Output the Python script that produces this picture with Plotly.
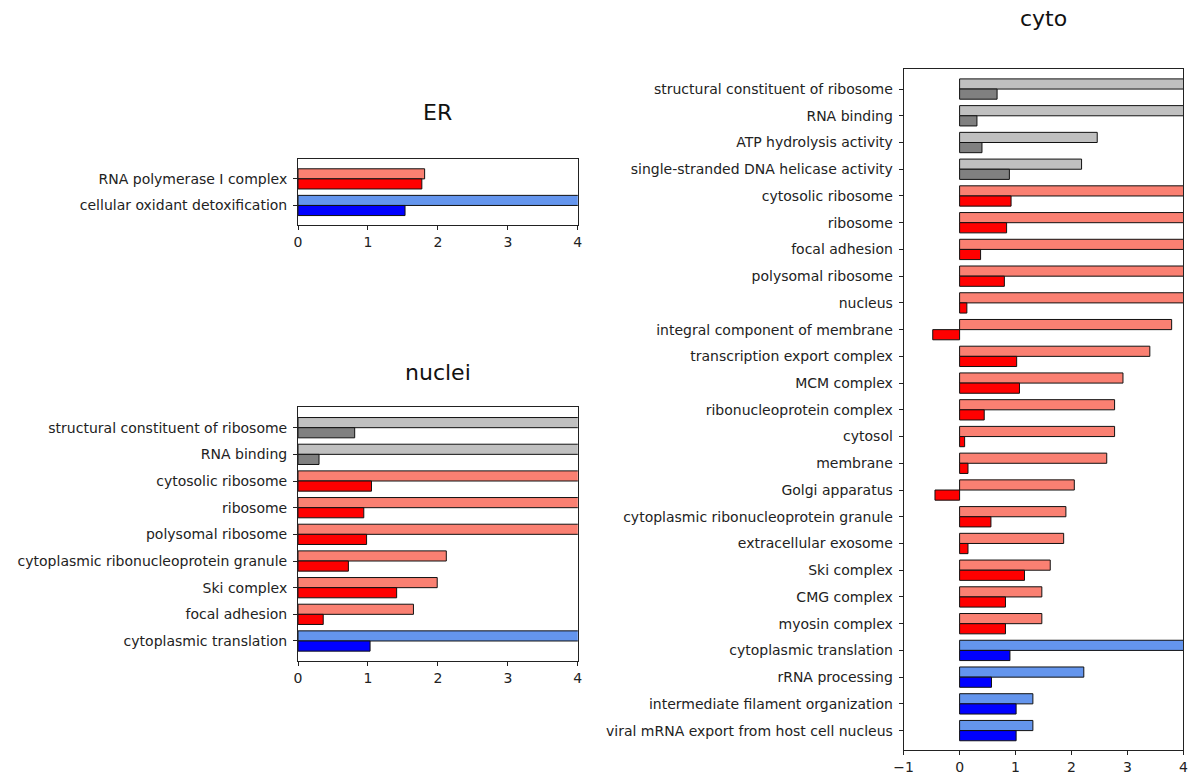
import plotly.graph_objects as go

# ---- GO-term enrichment per compartment: light bar = first score, dark bar = second score ----
er_terms = ["RNA polymerase I complex", "cellular oxidant detoxification"]
er_group = ["red", "blue"]
er_light = [1.81, 5.0]
er_dark = [1.77, 1.53]

nuclei_terms = [
    "structural constituent of ribosome",
    "RNA binding",
    "cytosolic ribosome",
    "ribosome",
    "polysomal ribosome",
    "cytoplasmic ribonucleoprotein granule",
    "Ski complex",
    "focal adhesion",
    "cytoplasmic translation",
]
nuclei_group = ["gray", "gray", "red", "red", "red", "red", "red", "red", "blue"]
nuclei_light = [5.0, 5.0, 5.0, 5.0, 5.0, 2.12, 1.99, 1.65, 5.0]
nuclei_dark = [0.81, 0.30, 1.05, 0.94, 0.98, 0.72, 1.41, 0.36, 1.03]

cyto_terms = [
    "structural constituent of ribosome",
    "RNA binding",
    "ATP hydrolysis activity",
    "single-stranded DNA helicase activity",
    "cytosolic ribosome",
    "ribosome",
    "focal adhesion",
    "polysomal ribosome",
    "nucleus",
    "integral component of membrane",
    "transcription export complex",
    "MCM complex",
    "ribonucleoprotein complex",
    "cytosol",
    "membrane",
    "Golgi apparatus",
    "cytoplasmic ribonucleoprotein granule",
    "extracellular exosome",
    "Ski complex",
    "CMG complex",
    "myosin complex",
    "cytoplasmic translation",
    "rRNA processing",
    "intermediate filament organization",
    "viral mRNA export from host cell nucleus",
]
cyto_group = ["gray"] * 4 + ["red"] * 17 + ["blue"] * 4
cyto_light = [5.0, 5.0, 2.46, 2.18, 5.0, 5.0, 5.0, 5.0, 5.0, 3.79, 3.40, 2.92, 2.77,
              2.77, 2.63, 2.05, 1.90, 1.86, 1.62, 1.47, 1.47, 5.0, 2.22, 1.31, 1.31]
cyto_dark = [0.67, 0.31, 0.40, 0.89, 0.92, 0.84, 0.375, 0.80, 0.13, -0.48, 1.02, 1.07, 0.44,
             0.09, 0.15, -0.44, 0.56, 0.15, 1.16, 0.82, 0.82, 0.90, 0.57, 1.01, 1.01]

LIGHT = {"gray": "#c0c0c0", "red": "#fa8072", "blue": "#6495ed"}
DARK = {"gray": "#808080", "red": "#ff0000", "blue": "#0000ff"}

W, H = 1196, 775
FONT = "DejaVu Sans"
BAR_H = 0.38

panels = [
    # name, terms, groups, light, dark, x-range, pixel box (left, right, top, bottom), title centre y
    ("ER", er_terms, er_group, er_light, er_dark, [0, 4], (291.7, 575.0, 159.3, 226.0), 113),
    ("nuclei", nuclei_terms, nuclei_group, nuclei_light, nuclei_dark, [0, 4], (291.7, 575.0, 409.0, 663.3), 374),
    ("cyto", cyto_terms, cyto_group, cyto_light, cyto_dark, [-1, 4], (905.0, 1188.3, 69.0, 753.3), 19),
]

fig = go.Figure()
annotations = []
layout_axes = {}

for i, (name, terms, groups, light, dark, xr, box, title_y) in enumerate(panels, start=1):
    xa = "x" if i == 1 else f"x{i}"
    ya = "y" if i == 1 else f"y{i}"
    left, right, top, bottom = box

    fig.add_trace(go.Bar(
        y=terms, x=light, orientation="h", xaxis=xa, yaxis=ya,
        width=BAR_H, offset=-BAR_H,
        marker=dict(color=[LIGHT[g] for g in groups], line=dict(color="#111111", width=1)),
        showlegend=False, hoverinfo="x+y",
    ))
    fig.add_trace(go.Bar(
        y=terms, x=dark, orientation="h", xaxis=xa, yaxis=ya,
        width=BAR_H, offset=0,
        marker=dict(color=[DARK[g] for g in groups], line=dict(color="#111111", width=1)),
        showlegend=False, hoverinfo="x+y",
    ))

    n = len(terms)
    axis_common = dict(
        showline=True, linecolor="#222222", linewidth=1, mirror=True,
        ticks="outside", ticklen=4, tickwidth=1, tickcolor="#222222",
        showgrid=False, zeroline=False,
        tickfont=dict(family=FONT, size=14, color="#222222"),
    )
    layout_axes["xaxis" if i == 1 else f"xaxis{i}"] = dict(
        axis_common,
        domain=[left / W, right / W],
        anchor=ya,
        range=xr, dtick=1, tick0=0,
    )
    layout_axes["yaxis" if i == 1 else f"yaxis{i}"] = dict(
        axis_common,
        domain=[1 - bottom / H, 1 - top / H],
        anchor=xa,
        type="category",
        categoryorder="array", categoryarray=terms,
        range=[n - 0.26, -0.76],
        ticklabelstandoff=3,
    )
    annotations.append(dict(
        text=name, xref="paper", yref="paper",
        x=(left + right) / 2 / W, y=1 - title_y / H,
        xanchor="center", yanchor="middle", showarrow=False,
        font=dict(family=FONT, size=22, color="#111111"),
    ))

fig.update_layout(
    width=W, height=H,
    margin=dict(l=0, r=0, t=0, b=0),
    paper_bgcolor="white", plot_bgcolor="white",
    barmode="overlay",
    annotations=annotations,
    **layout_axes,
)

fig.write_html("out.html")
